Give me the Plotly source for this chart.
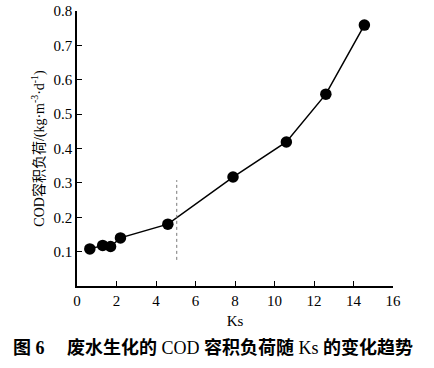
import plotly.graph_objects as go

ks = [0.65, 1.3, 1.7, 2.2, 4.6, 7.9, 10.6, 12.6, 14.55]
cod_load = [0.108, 0.118, 0.115, 0.14, 0.18, 0.317, 0.419, 0.558, 0.759]
x_ticks = [0, 2, 4, 6, 8, 10, 12, 14, 16]
y_ticks = [0.1, 0.2, 0.3, 0.4, 0.5, 0.6, 0.7, 0.8]
y_tick_labels = ["0.1", "0.2", "0.3", "0.4", "0.5", "0.6", "0.7", "0.8"]
divider_x = 5.05
divider_y = [0.076, 0.308]

serif = "Liberation Serif, Noto Sans CJK SC, serif"

fig = go.Figure()
fig.add_trace(go.Scatter(
    x=ks, y=cod_load, mode="lines+markers",
    line=dict(color="black", width=1.5),
    marker=dict(color="black", size=11.5),
    showlegend=False,
))
fig.add_shape(type="line", xref="x", yref="y",
              x0=divider_x, x1=divider_x, y0=divider_y[0], y1=divider_y[1],
              line=dict(color="#777777", width=1, dash="dot"))

fig.update_layout(
    width=434, height=368,
    margin=dict(l=77, r=41, t=11, b=82),
    paper_bgcolor="white", plot_bgcolor="white",
    font=dict(family=serif, size=15, color="black"),
    xaxis=dict(range=[0, 16], tickvals=x_ticks, ticks="inside", ticklen=5,
               tickcolor="black", showline=True, linecolor="black", linewidth=1.5,
               showgrid=False, zeroline=False, automargin=False,
               title=dict(text="Ks", font=dict(size=15, family=serif), standoff=8)),
    yaxis=dict(range=[0, 0.8], tickvals=y_ticks, ticktext=y_tick_labels,
               ticks="inside", ticklen=5,
               tickcolor="black", showline=True, linecolor="black", linewidth=1.5,
               showgrid=False, zeroline=False, automargin=False,
               title=dict(text="COD容积负荷/(kg·m<sup>-3</sup>·d<sup>-1</sup>)",
                          font=dict(size=14, family=serif), standoff=6)),
    annotations=[
        dict(
            text="<b>图 6　 废水生化的</b> COD <b>容积负荷随</b> Ks <b>的变化趋势</b>",
            xref="paper", yref="paper", x=0.5, y=0, yshift=-61, xshift=-22,
            showarrow=False, xanchor="center", yanchor="middle",
            font=dict(size=18, family=serif),
        ),
    ],
)

fig.write_html("out.html", config={"displayModeBar": False},
               post_script="document.body.style.margin='0';")
